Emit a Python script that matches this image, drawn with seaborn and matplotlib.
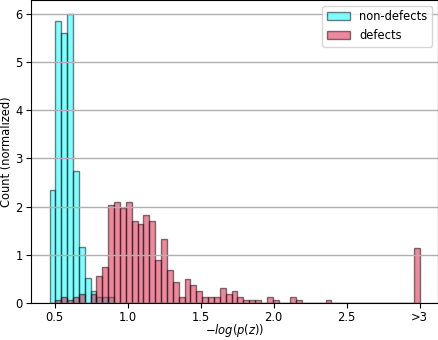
import numpy as np
import pandas as pd
import matplotlib
matplotlib.use("Agg")
import matplotlib.pyplot as plt
import seaborn as sns

# 63 common bins, last bin collects everything > 3
bin_lo, bin_hi, n_bins = 0.4637, 3.0, 63

nondefect_counts = [18, 45, 43, 46, 21, 9, 4, 2, 1, 1, 1, 0, 0, 0, 0, 0,
                    0, 0, 0, 0, 0, 0, 0, 0, 0, 0, 0, 0, 0, 0, 0, 0,
                    0, 0, 0, 0, 0, 0, 0, 0, 0, 0, 0, 0, 0, 0, 0, 0,
                    0, 0, 0, 0, 0, 0, 0, 0, 0, 0, 0, 0, 0, 0, 0]
defect_counts = [0, 1, 2, 1, 2, 3, 0, 3, 9, 12, 32, 33, 31, 33, 27, 26,
                 29, 27, 14, 21, 11, 7, 2, 8, 6, 4, 2, 2, 2, 5, 3, 4,
                 2, 1, 1, 1, 0, 2, 1, 0, 0, 2, 1, 0, 0, 0, 0, 1,
                 0, 0, 0, 0, 0, 0, 0, 0, 0, 0, 0, 0, 0, 0, 18]

xtick_vals = [0.5, 1.0, 1.5, 2.0, 2.5, 3.0]
xtick_labels = ["0.5", "1.0", "1.5", "2.0", "2.5", ">3"]

plt.rcParams["font.size"] = 8.3

edges = np.linspace(bin_lo, bin_hi, n_bins + 1)
centers = (edges[:-1] + edges[1:]) / 2
df_non = pd.DataFrame({"score": centers, "count": nondefect_counts})
df_def = pd.DataFrame({"score": centers, "count": defect_counts})

fig = plt.figure(figsize=(4.38, 3.40), dpi=100)
ax = fig.add_axes([31 / 438, 36.7 / 340, 407 / 438, 303.3 / 340])

edge = (0, 0, 0, 0.5)
sns.histplot(data=df_non, x="score", weights="count", bins=list(edges), stat="density",
             color="cyan", alpha=0.5, edgecolor=edge, linewidth=1,
             label="non-defects", ax=ax)
sns.histplot(data=df_def, x="score", weights="count", bins=list(edges), stat="density",
             color="crimson", alpha=0.5, edgecolor=edge, linewidth=1,
             label="defects", ax=ax)

ax.set_xticks(xtick_vals)
ax.set_xticklabels(xtick_labels)
ax.tick_params(length=3.5, pad=2.5)
ax.tick_params(axis="x", pad=2)
ax.set_xlabel("$-log(p(z))$", labelpad=-1.5)
ax.set_ylabel("Count (normalized)", labelpad=1.5)
ax.yaxis.grid(True, color="#b0b0b0", linewidth=1)
ax.legend(loc="upper right")

fig.savefig("out.png", dpi=100)
